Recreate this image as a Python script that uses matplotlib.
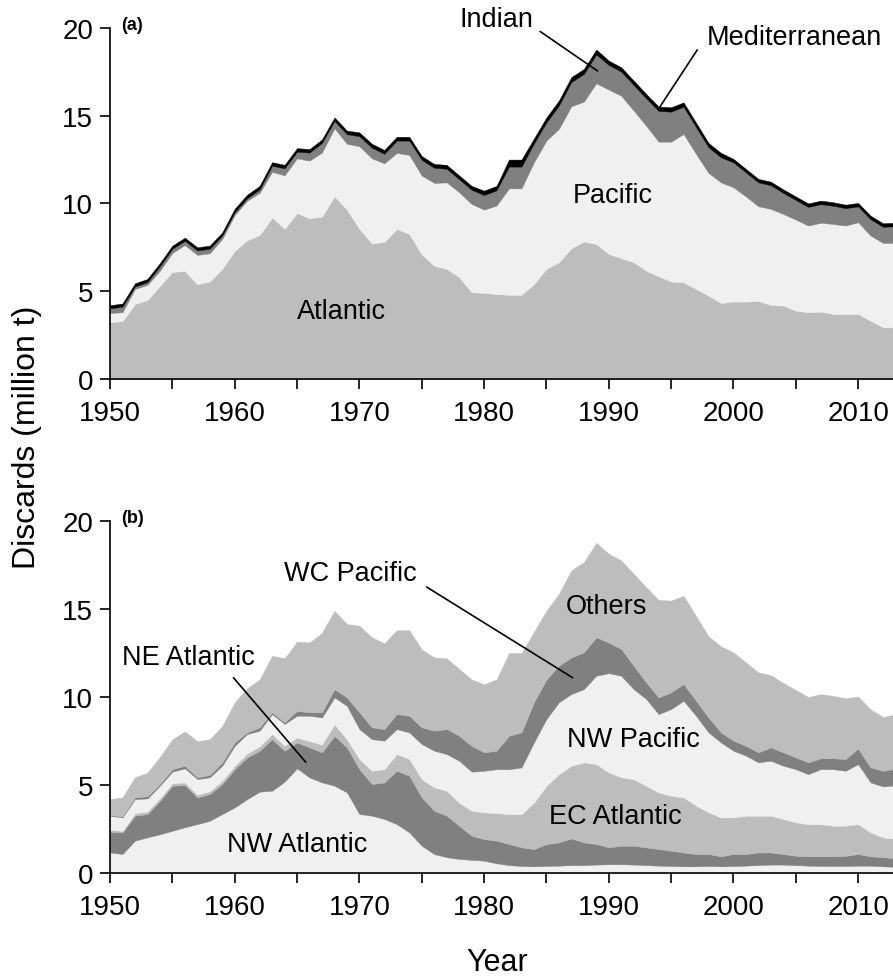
import numpy as np
import matplotlib
matplotlib.use("Agg")
import matplotlib.pyplot as plt

plt.rcParams['font.family'] = ['Liberation Sans', 'DejaVu Sans']

years = np.arange(1950, 2014)

# panel (a): discards by ocean (million t)
atlantic = [3.23, 3.30, 4.27, 4.50, 5.30, 6.10, 6.15, 5.40, 5.55, 6.27,
            7.30, 7.90, 8.20, 9.20, 8.55, 9.45, 9.15, 9.25, 10.40, 9.65,
            8.55, 7.73, 7.80, 8.55, 8.26, 7.10, 6.45, 6.27, 5.80, 4.94,
            4.90, 4.84, 4.79, 4.79, 5.41, 6.27, 6.65, 7.45, 7.83, 7.69,
            7.12, 6.88, 6.65, 6.17, 5.85, 5.55, 5.51, 5.13, 4.75, 4.33,
            4.41, 4.41, 4.44, 4.22, 4.18, 3.89, 3.80, 3.84, 3.70, 3.70,
            3.70, 3.32, 2.94, 2.94]
pacific = [0.53, 0.50, 0.86, 0.86, 0.87, 1.08, 1.48, 1.67, 1.61, 1.71,
           2.04, 2.26, 2.40, 2.60, 3.05, 3.12, 3.29, 3.65, 3.88, 3.75,
           4.71, 4.84, 4.49, 4.33, 4.50, 4.49, 4.72, 4.93, 4.84, 5.03,
           4.75, 5.04, 6.07, 6.07, 6.94, 7.31, 7.60, 8.09, 7.97, 9.16,
           9.37, 9.26, 8.64, 8.26, 7.67, 7.97, 8.45, 7.69, 6.99, 6.87,
           6.51, 5.99, 5.40, 5.47, 5.22, 5.19, 4.94, 5.06, 5.13, 5.04,
           5.23, 4.85, 4.81, 4.81]
indian = [0.26, 0.32, 0.14, 0.16, 0.25, 0.24, 0.24, 0.25, 0.26, 0.19,
          0.16, 0.14, 0.20, 0.35, 0.40, 0.38, 0.46, 0.55, 0.42, 0.55,
          0.57, 0.61, 0.54, 0.70, 0.82, 0.89, 0.86, 0.78, 0.74, 0.81,
          0.83, 0.87, 1.24, 1.24, 1.07, 1.04, 1.33, 1.38, 1.58, 1.64,
          1.40, 1.37, 1.46, 1.56, 1.75, 1.71, 1.55, 1.53, 1.46, 1.43,
          1.42, 1.37, 1.36, 1.35, 1.20, 1.12, 1.06, 1.06, 1.04, 0.99,
          0.90, 0.93, 0.92, 0.95]
mediterranean = [0.18] * 10 + [0.20] * 10 + [0.22] * 10 + [0.25, 0.25, 0.40, 0.40,
                 0.28, 0.28, 0.28, 0.28, 0.28, 0.28] + [0.25] * 10 + [0.20] * 14

# panel (b): discards by FAO area (million t)
nw_atlantic = [1.17, 1.08, 1.84, 2.03, 2.20, 2.40, 2.60, 2.78, 2.97, 3.35,
               3.73, 4.20, 4.62, 4.68, 5.19, 5.95, 5.43, 5.15, 4.96, 4.58,
               3.35, 3.26, 3.07, 2.78, 2.31, 1.55, 1.08, 0.90, 0.80, 0.75,
               0.70, 0.55, 0.45, 0.40, 0.38, 0.40, 0.42, 0.45, 0.45, 0.48,
               0.50, 0.50, 0.48, 0.45, 0.42, 0.40, 0.38, 0.38, 0.40, 0.38,
               0.40, 0.42, 0.45, 0.48, 0.48, 0.45, 0.42, 0.40, 0.40, 0.40,
               0.42, 0.42, 0.38, 0.35]
ne_atlantic = [1.18, 1.23, 1.42, 1.32, 1.90, 2.56, 2.40, 1.52, 1.52, 1.71,
               2.17, 2.37, 2.33, 2.93, 1.76, 1.47, 1.71, 1.71, 2.84, 2.56,
               2.55, 1.80, 2.08, 3.03, 3.22, 2.75, 2.46, 2.36, 1.89, 1.37,
               1.23, 1.29, 1.20, 1.06, 0.98, 1.25, 1.32, 1.52, 1.29, 1.17,
               0.96, 1.05, 1.07, 1.01, 0.94, 0.87, 0.79, 0.70, 0.68, 0.57,
               0.68, 0.66, 0.72, 0.69, 0.60, 0.53, 0.53, 0.55, 0.55, 0.58,
               0.66, 0.53, 0.52, 0.48]
ec_atlantic = [0.10, 0.09, 0.14, 0.15, 0.15, 0.14, 0.15, 0.15, 0.16, 0.19,
               0.20, 0.23, 0.25, 0.29, 0.30, 0.28, 0.36, 0.44, 0.65, 0.46,
               0.58, 0.75, 0.75, 0.95, 0.95, 1.04, 1.33, 1.42, 1.31, 1.42,
               1.52, 1.57, 1.70, 1.89, 2.64, 3.31, 3.88, 4.13, 4.55, 4.54,
               4.26, 3.89, 3.79, 3.50, 3.22, 3.12, 3.13, 2.75, 2.37, 2.21,
               2.08, 2.18, 2.09, 2.09, 1.99, 1.90, 1.83, 1.83, 1.74, 1.71,
               1.70, 1.36, 1.13, 1.10]
nw_pacific = [0.81, 0.76, 0.80, 0.74, 0.71, 0.66, 0.80, 0.89, 0.79, 0.85,
              1.13, 1.10, 0.89, 1.13, 1.22, 1.24, 1.44, 1.54, 1.53, 1.90,
              1.70, 1.80, 1.62, 1.42, 1.51, 1.99, 2.08, 2.08, 2.38, 2.22,
              2.36, 2.49, 2.55, 2.65, 3.42, 3.79, 4.08, 4.07, 4.16, 5.02,
              5.64, 5.77, 5.11, 4.93, 4.45, 4.93, 5.49, 5.11, 4.54, 4.26,
              3.79, 3.41, 3.03, 3.12, 3.03, 3.02, 2.84, 3.12, 3.21, 3.12,
              3.41, 2.84, 2.89, 3.06]
wc_pacific = [0.04, 0.06, 0.10, 0.12, 0.10, 0.14, 0.15, 0.10, 0.13, 0.19,
              0.19, 0.09, 0.19, 0.10, 0.09, 0.28, 0.19, 0.29, 0.47, 0.48,
              0.95, 0.67, 0.66, 0.85, 0.95, 0.95, 1.14, 1.42, 1.42, 1.47,
              1.05, 1.05, 1.90, 1.99, 2.28, 2.25, 2.08, 2.08, 2.09, 2.18,
              1.74, 1.52, 1.33, 0.94, 0.95, 0.95, 0.95, 0.85, 0.85, 0.57,
              0.57, 0.56, 0.57, 0.76, 0.76, 0.67, 0.67, 0.62, 0.62, 0.67,
              0.89, 0.85, 0.89, 0.94]
others = [0.90, 1.08, 1.15, 1.34, 1.54, 1.70, 1.95, 2.06, 2.03, 2.06,
          2.28, 2.51, 2.72, 3.22, 3.64, 3.93, 3.97, 4.52, 4.45, 4.17,
          4.92, 5.12, 4.87, 4.77, 4.86, 4.42, 4.16, 4.02, 3.80, 3.77,
          3.87, 4.05, 4.70, 4.51, 4.00, 3.90, 4.08, 4.95, 5.12, 5.38,
          5.04, 5.03, 5.22, 5.41, 5.54, 5.21, 5.02, 4.81, 4.61, 4.89,
          5.02, 4.74, 4.54, 4.10, 3.94, 3.83, 3.71, 3.64, 3.55, 3.45,
          2.95, 3.30, 3.06, 3.09]

light = '#f0f0f0'
mid = '#bdbdbd'
dark = '#808080'

fig = plt.figure(figsize=(8.93, 9.78), dpi=100)
ax1 = fig.add_axes([0.1232, 0.6115, 0.8768, 0.3589])
ax2 = fig.add_axes([0.1232, 0.1063, 0.8768, 0.3599])

ax1.stackplot(years, atlantic, pacific, indian, mediterranean,
              colors=[mid, light, dark, 'black'], edgecolor='face', linewidth=0.3)
ax2.stackplot(years, nw_atlantic, ne_atlantic, ec_atlantic, nw_pacific, wc_pacific, others,
              colors=[light, dark, mid, light, dark, mid], edgecolor='face', linewidth=0.3)

for ax in (ax1, ax2):
    ax.set_xlim(1950, 2012.8)
    ax.set_ylim(0, 20)
    ax.spines['top'].set_visible(False)
    ax.spines['right'].set_visible(False)
    ax.spines['left'].set_linewidth(1.2)
    ax.spines['bottom'].set_linewidth(1.2)
    ax.set_xticks(np.arange(1950, 2015, 5))
    ax.set_xticklabels([str(y) if y % 10 == 0 else '' for y in range(1950, 2015, 5)])
    ax.set_yticks([0, 5, 10, 15, 20])
    ax.tick_params(direction='out', length=7, width=1.2, labelsize=20)
    ax.tick_params(axis='x', pad=8)
    ax.tick_params(axis='y', pad=5)

fs = 19.5
# panel (a) labels
ax1.text(1951.8, 20.2, '(a)', fontsize=13, fontweight='bold', ha='center', va='center')
ax1.text(1968.6, 3.9, 'Atlantic', fontsize=fs, ha='center', va='center')
ax1.text(1990.3, 10.5, 'Pacific', fontsize=fs, ha='center', va='center')
ax1.text(1981.0, 20.5, 'Indian', fontsize=fs, ha='center', va='center')
ax1.annotate('', xy=(1989.1, 17.55), xytext=(1984.5, 19.8),
             arrowprops=dict(arrowstyle='-', lw=1.2, shrinkA=0, shrinkB=0),
             annotation_clip=False)
ax1.text(2004.9, 19.5, 'Mediterranean', fontsize=fs, ha='center', va='center')
ax1.annotate('', xy=(1994.1, 15.5), xytext=(1997.1, 18.75),
             arrowprops=dict(arrowstyle='-', lw=1.2, shrinkA=0, shrinkB=0),
             annotation_clip=False)

# panel (b) labels
ax2.text(1951.8, 20.2, '(b)', fontsize=13, fontweight='bold', ha='center', va='center')
ax2.text(1969.3, 17.05, 'WC Pacific', fontsize=fs, ha='center', va='center')
ax2.annotate('', xy=(1987.1, 11.1), xytext=(1975.4, 16.25),
             arrowprops=dict(arrowstyle='-', lw=1.2, shrinkA=0, shrinkB=0))
ax2.text(1989.8, 15.2, 'Others', fontsize=fs, ha='center', va='center')
ax2.text(1956.3, 12.3, 'NE Atlantic', fontsize=fs, ha='center', va='center')
ax2.annotate('', xy=(1965.7, 6.3), xytext=(1959.9, 11.1),
             arrowprops=dict(arrowstyle='-', lw=1.2, shrinkA=0, shrinkB=0))
ax2.text(1992.0, 7.6, 'NW Pacific', fontsize=fs, ha='center', va='center')
ax2.text(1990.5, 3.25, 'EC Atlantic', fontsize=fs, ha='center', va='center')
ax2.text(1965.0, 1.65, 'NW Atlantic', fontsize=fs, ha='center', va='center')

fig.text(0.03, 1 - 437 / 978, 'Discards (million t)', fontsize=23, rotation=90,
         ha='center', va='center')
fig.text(497 / 893, 1 - 963 / 978, 'Year', fontsize=22, ha='center', va='center')

fig.savefig('out.png', dpi=100)
